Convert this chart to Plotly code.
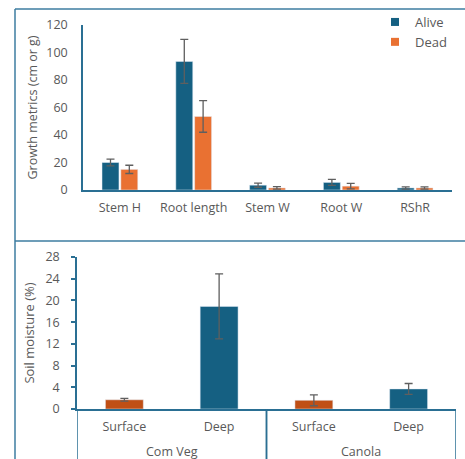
import plotly.graph_objects as go

# ---- growth metrics (top panel) ----
metrics = ["Stem H", "Root length", "Stem W", "Root W", "RShR"]
alive_vals = [20, 93.5, 3.5, 5.5, 1.5]
alive_err = [2.5, 16, 1.5, 2.2, 0.8]
dead_vals = [15, 53.5, 1.5, 2.8, 1.5]
dead_err = [3, 11.5, 0.9, 2.0, 0.8]

# ---- soil moisture (bottom panel) ----
veg_groups = ["Com Veg", "Com Veg", "Canola", "Canola"]
depths = ["Surface", "Deep", "Surface", "Deep"]
moisture = [1.7, 18.9, 1.6, 3.7]
moisture_err = [0.25, 6.0, 1.0, 1.0]
y1_ticks = [0, 20, 40, 60, 80, 100, 120]
y2_ticks = [0, 4, 8, 12, 16, 20, 24, 28]

BLUE = "#156082"
ORANGE = "#E97132"
RUST = "#C04F15"
LINE = "#2A6F93"
TXT = "#595959"
FONT = "Open Sans"

W, H = 465, 459


def px(x):
    return x / W


def py(y):
    return 1 - y / H


depth_colors = {"Surface": RUST, "Deep": BLUE}
cat_ids = [f"{g} | {d}" for g, d in zip(veg_groups, depths)]

fig = go.Figure()

err_style = dict(type="data", color="#5f5f5f", thickness=1.3, width=4)

fig.add_trace(go.Bar(
    x=metrics, y=alive_vals, name="Alive", marker_color=BLUE,
    error_y=dict(array=alive_err, **err_style),
    xaxis="x", yaxis="y", showlegend=False))
fig.add_trace(go.Bar(
    x=metrics, y=dead_vals, name="Dead", marker_color=ORANGE,
    error_y=dict(array=dead_err, **err_style),
    xaxis="x", yaxis="y", showlegend=False))

# legend entries as small squares
for nm, col in [("Alive", BLUE), ("Dead", ORANGE)]:
    fig.add_trace(go.Scatter(
        x=[None], y=[None], mode="markers", name=nm,
        marker=dict(symbol="square", size=8, color=col),
        xaxis="x", yaxis="y", showlegend=True))

fig.add_trace(go.Bar(
    x=cat_ids, y=moisture,
    marker_color=[depth_colors[d] for d in depths],
    error_y=dict(array=moisture_err, **err_style),
    xaxis="x2", yaxis="y2", showlegend=False, width=0.4))

tickfont = dict(family=FONT, size=12.5, color=TXT)

fig.update_layout(
    width=W, height=H,
    margin=dict(l=0, r=0, t=0, b=0, autoexpand=False),
    paper_bgcolor="white", plot_bgcolor="white",
    font=dict(family=FONT, color=TXT, size=12.5),
    barmode="group", bargap=0.49, bargroupgap=0.1,
    xaxis=dict(domain=[px(83), px(452)], anchor="y",
               showline=True, linecolor=LINE, linewidth=1.5,
               showgrid=False, ticks="", tickfont=tickfont,
               ticklabelstandoff=5),
    yaxis=dict(domain=[py(190), py(25)], anchor="x",
               range=[0, 120], tickvals=y1_ticks,
               showline=True, linecolor=LINE, linewidth=1.5,
               showgrid=False, zeroline=False, ticks="",
               tickfont=tickfont, ticklabelstandoff=11,
               title=dict(text="Growth metrics (cm or g)",
                          font=dict(family=FONT, size=12.5, color=TXT),
                          standoff=6)),
    xaxis2=dict(domain=[px(77), px(456)], anchor="y2", type="category",
                range=[-0.5, len(cat_ids) - 0.5],
                tickvals=cat_ids, ticktext=depths,
                showline=True, linecolor=LINE, linewidth=1.5,
                showgrid=False, ticks="", tickfont=tickfont,
                ticklabelstandoff=5),
    yaxis2=dict(domain=[py(409), py(257)], anchor="x2",
                range=[0, 28], tickvals=y2_ticks,
                showline=True, linecolor=LINE, linewidth=1.5,
                showgrid=False, zeroline=False,
                ticks="outside", ticklen=4, tickcolor=LINE, tickwidth=1.5,
                tickfont=tickfont, ticklabelstandoff=9,
                title=dict(text="Soil moisture (%)",
                           font=dict(family=FONT, size=13, color=TXT),
                           standoff=8)),
    legend=dict(x=px(375), y=py(7), xanchor="left", yanchor="top",
                font=dict(family=FONT, size=13, color=TXT),
                bgcolor="rgba(0,0,0,0)", tracegroupgap=0),
)

# second-level group labels and dividers under the soil-moisture axis
div_line = dict(color=LINE, width=1.5)
groups = list(dict.fromkeys(veg_groups))
for g in groups:
    idx = [i for i, v in enumerate(veg_groups) if v == g]
    fig.add_annotation(x=sum(idx) / len(idx), xref="x2",
                       y=py(451), yref="paper", yanchor="middle",
                       text=g, showarrow=False,
                       font=dict(family=FONT, size=12.5, color=TXT))
    for edge in (min(idx) - 0.5, max(idx) + 0.5):
        fig.add_shape(type="line", xref="x2", yref="paper",
                      x0=edge, x1=edge, y0=py(409), y1=0, line=div_line)

# panel frame lines
frame = dict(color="#3C7DA0", width=1.5)
fig.add_shape(type="line", xref="paper", yref="paper",
              x0=px(15), x1=1, y0=py(9), y1=py(9), line=frame)
fig.add_shape(type="line", xref="paper", yref="paper",
              x0=px(15), x1=px(15), y0=py(9), y1=0, line=frame)
fig.add_shape(type="line", xref="paper", yref="paper",
              x0=px(15), x1=1, y0=py(241), y1=py(241), line=frame)

fig.write_html("out.html")
